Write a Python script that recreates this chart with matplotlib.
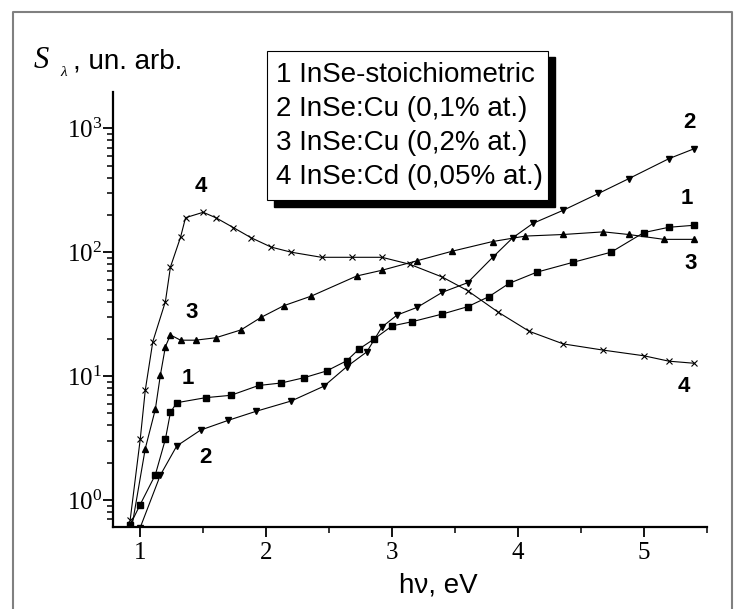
import math
import matplotlib.pyplot as plt
from matplotlib.lines import Line2D
from matplotlib.patches import Rectangle
from matplotlib.ticker import FixedLocator, FuncFormatter, LogLocator, NullFormatter

# photosensitivity spectra
x1 = [0.92, 1.00, 1.12, 1.20, 1.24, 1.29, 1.52, 1.72, 1.94, 2.12, 2.30, 2.48, 2.64,
      2.74, 2.86, 3.00, 3.16, 3.40, 3.60, 3.77, 3.93, 4.15, 4.44, 4.74, 5.00, 5.20, 5.40]
y1 = [0.63, 0.92, 1.6, 3.1, 5.1, 6.1, 6.7, 7.0, 8.4, 8.8, 9.7, 11.0, 13.3,
      16.6, 20.0, 25.4, 27.5, 31.7, 36.3, 43.8, 56, 69, 83, 100, 144, 159, 165]

x2 = [1.00, 1.16, 1.29, 1.48, 1.70, 1.92, 2.20, 2.46, 2.64, 2.80, 2.92, 3.04, 3.20,
      3.40, 3.60, 3.80, 3.96, 4.12, 4.36, 4.64, 4.88, 5.20, 5.40]
y2 = [0.60, 1.59, 2.73, 3.67, 4.4, 5.2, 6.3, 8.3, 11.9, 15.7, 24.9, 31.1, 35.9,
      47.5, 56.7, 91, 131, 171, 218, 298, 392, 569, 684]

x3 = [0.93, 1.04, 1.12, 1.16, 1.20, 1.24, 1.32, 1.44, 1.60, 1.80, 1.96, 2.14, 2.36,
      2.72, 2.92, 3.20, 3.48, 3.80, 4.06, 4.36, 4.68, 4.88, 5.16, 5.40]
y3 = [0.58, 2.6, 5.4, 10.2, 17.3, 21.5, 19.5, 19.5, 20.4, 23.6, 29.8, 37, 44.3,
      64.3, 71.5, 85.4, 102, 122, 135, 139, 146, 139, 127, 127]

x4 = [0.92, 1.00, 1.04, 1.10, 1.20, 1.24, 1.32, 1.36, 1.50, 1.60, 1.74, 1.88, 2.04, 2.20,
      2.44, 2.68, 2.92, 3.14, 3.40, 3.60, 3.84, 4.09, 4.36, 4.68, 5.00, 5.20, 5.40]
y4 = [0.69, 3.1, 7.7, 19, 40, 76, 132, 190, 210, 190, 158, 131, 110, 100,
      91, 91, 91, 80, 63, 49, 33, 23, 18.2, 16.2, 14.6, 13.2, 12.7]

legend_lines = ['1 InSe-stoichiometric', '2 InSe:Cu (0,1% at.)',
                '3 InSe:Cu (0,2% at.)', '4 InSe:Cd (0,05% at.)']

# curve numbers next to the curves (x, y, text)
curve_labels = [(1.48, 340, '4'), (1.41, 32.5, '3'), (1.38, 9.6, '1'), (1.52, 2.2, '2'),
                (5.36, 1110, '2'), (5.34, 272, '1'), (5.37, 81, '3'), (5.32, 8.3, '4')]

plt.rcParams['font.family'] = ['Liberation Sans', 'DejaVu Sans']

W, H = 740, 609
fig = plt.figure(figsize=(W / 100, H / 100), dpi=100)

def fx(px):
    return px / W

def fy(py):
    return 1 - py / H

ax = fig.add_axes([fx(113.3), fy(526.7), (706.7 - 113.3) / W, (526.7 - 91.7) / H])

style = dict(color='black', lw=0.8, markerfacecolor='black', markeredgecolor='black')
ax.plot(x1, y1, marker='s', ms=4.5, **style)
ax.plot(x2, y2, marker='v', ms=5, **style)
ax.plot(x3, y3, marker='^', ms=5, **style)
ax.plot(x4, y4, marker='x', ms=5, mew=0.8, **style)

ax.set_yscale('log')
ax.set_xlim(0.786, 5.5)
ax.set_ylim(0.609, 1975)

for sp in ['top', 'right']:
    ax.spines[sp].set_visible(False)
for sp in ['left', 'bottom']:
    ax.spines[sp].set_linewidth(1.6)

ax.xaxis.set_major_locator(FixedLocator([1, 2, 3, 4, 5]))
ax.xaxis.set_minor_locator(FixedLocator([1.5, 2.5, 3.5, 4.5, 5.5]))
ax.yaxis.set_major_locator(LogLocator(base=10, numticks=10))
ax.yaxis.set_minor_locator(LogLocator(base=10, subs=range(2, 10), numticks=10))
ax.yaxis.set_minor_formatter(NullFormatter())
ax.yaxis.set_major_formatter(FuncFormatter(lambda v, p: r'$\mathregular{10^{%d}}$' % round(math.log10(v))))

ax.tick_params(axis='both', which='major', direction='out', length=7, width=1.3,
               labelsize=18, labelfontfamily='Liberation Serif')
ax.tick_params(axis='both', which='minor', direction='out', length=4.5, width=1.1)
ax.tick_params(axis='y', which='major', pad=1)
ax.tick_params(axis='x', which='major', pad=4)

for x, y, t in curve_labels:
    ax.text(x, y, t, fontsize=16, fontweight='bold', ha='center', va='center')

# axis titles
fig.text(fx(438.5), fy(585), 'hν, eV', fontsize=20, ha='center', va='center')
fig.text(fx(34), fy(60), 'S', fontsize=22, family='Liberation Serif', style='italic',
         ha='left', va='center')
fig.text(fx(60), fy(73), 'λ', fontsize=11, family='Liberation Serif', style='italic',
         ha='left', va='center')
fig.text(fx(73), fy(62), ', un. arb.', fontsize=20, ha='left', va='center')

# boxed legend with drop shadow
fig.add_artist(Rectangle((fx(274), fy(207)), 281 / W, 150 / H, transform=fig.transFigure,
                         facecolor='black', edgecolor='black'))
fig.add_artist(Rectangle((fx(267), fy(200)), 281 / W, 149 / H, transform=fig.transFigure,
                         facecolor='white', edgecolor='black', lw=0.8))
for i, t in enumerate(legend_lines):
    fig.text(fx(276), fy(75 + i * 34), t, fontsize=20, ha='left', va='center')

# grey frame around the picture
fig.add_artist(Line2D([fx(13), fx(13), fx(732), fx(732)], [0, fy(12), fy(12), 0],
                      transform=fig.transFigure, color='#808080', lw=1.5))

fig.savefig('out.png', dpi=100)
